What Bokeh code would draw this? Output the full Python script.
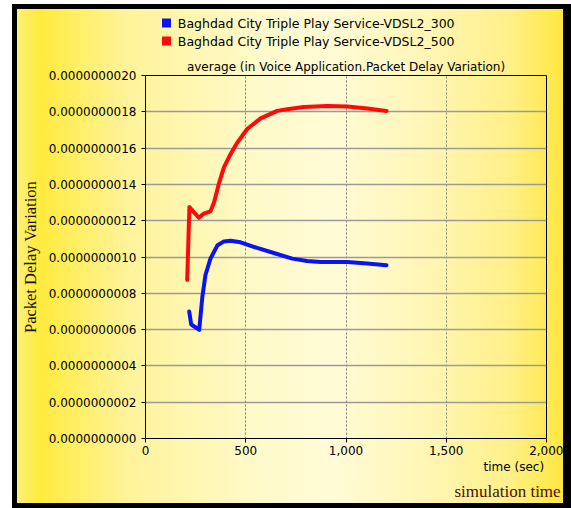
from bokeh.plotting import figure
from bokeh.models import (Range1d, FixedTicker, CustomJSTickFormatter, NumeralTickFormatter, LinearAxis)
from bokeh.embed import file_html
from bokeh.resources import INLINE

# ---------------- data ----------------
series_names = ["Baghdad City Triple Play Service-VDSL2_300",
                "Baghdad City Triple Play Service-VDSL2_500"]
series_colors = ["#0a14f0", "#ff0a0a"]

t_300 = [218, 228, 268, 283, 299, 324, 358, 391, 424, 474, 557, 640, 732, 806, 873, 1006, 1106, 1202]
v_300 = [0.700e-9, 0.628e-9, 0.599e-9, 0.775e-9, 0.901e-9, 0.991e-9, 1.063e-9, 1.086e-9, 1.090e-9,
         1.081e-9, 1.050e-9, 1.022e-9, 0.991e-9, 0.978e-9, 0.973e-9, 0.973e-9, 0.964e-9, 0.955e-9]

t_500 = [208, 219, 266, 291, 324, 341, 366, 391, 424, 457, 507, 574, 657, 707, 790, 906, 1006, 1106, 1202]
v_500 = [0.874e-9, 1.275e-9, 1.216e-9, 1.239e-9, 1.252e-9, 1.297e-9, 1.404e-9, 1.494e-9, 1.566e-9,
         1.629e-9, 1.705e-9, 1.764e-9, 1.805e-9, 1.814e-9, 1.826e-9, 1.832e-9, 1.829e-9, 1.818e-9, 1.805e-9]

x_ticks = [0, 500, 1000, 1500, 2000]
y_ticks = [0.0, 0.2e-9, 0.4e-9, 0.6e-9, 0.8e-9, 1.0e-9, 1.2e-9, 1.4e-9, 1.6e-9, 1.8e-9, 2.0e-9]

title_text = "average (in Voice Application.Packet Delay Variation)"
y_label = "Packet Delay Variation"
x_label = "time (sec)"
footer_text = "simulation time"

SANS = "DejaVu Sans"
SERIF = "Liberation Serif"
NBSP = "\u00a0"
LEGEND_X = 107  # x position (data units) of the legend swatches

gradient = ("linear-gradient(to right, #fdf07a 0%, #ffeb3c 4%, #fff39a 20%, #fffacb 45%, "
            "#fffbd6 58%, #fff6b5 75%, #fff08a 90%, #ffe73f 100%)")

p = figure(width=546, height=494, output_backend="svg", toolbar_location=None,
           x_range=Range1d(0, 2000), y_range=Range1d(0, 2e-9),
           min_border_left=128, min_border_right=17, min_border_top=60, min_border_bottom=63,
           background_fill_color=None, border_fill_color=None,
           styles={"background": gradient,
                   "box-shadow": "0 0 0 5px black, 3px 0 0 5px black",
                   "margin-left": "17px", "margin-top": "9px"})

# main axes (grab them before any extra axis is added)
xa = p.below[0]
ya = p.left[0]

p.outline_line_color = "black"
p.outline_line_width = 1

# built-in title kept tiny (the visible title is drawn as an axis label above the frame)
p.title.text = NBSP
p.title.text_font_size = "1px"
p.title.standoff = 0

xa.ticker = FixedTicker(ticks=x_ticks)
xa.formatter = NumeralTickFormatter(format="0,0")
ya.ticker = FixedTicker(ticks=y_ticks)
ya.formatter = CustomJSTickFormatter(code="return tick.toFixed(10);")
for ax in (xa, ya):
    ax.axis_line_color = "black"
    ax.axis_line_width = 1
    ax.major_tick_in = 0
    ax.major_tick_out = 4
    ax.major_tick_line_color = "black"
    ax.minor_tick_line_color = None
    ax.major_label_text_font = SANS
    ax.major_label_text_font_size = "12px"
    ax.major_label_text_color = "black"
xa.major_label_standoff = 3
xa.axis_label = NBSP * 88 + x_label
xa.axis_label_text_font = SANS
xa.axis_label_text_font_size = "12px"
xa.axis_label_text_font_style = "normal"
xa.axis_label_text_color = "black"
xa.axis_label_standoff = 2

ya.major_label_standoff = 5
ya.axis_label = y_label
ya.axis_label_text_font = SERIF
ya.axis_label_text_font_size = "16.5px"
ya.axis_label_text_font_style = "normal"
ya.axis_label_text_color = "#1c1200"
ya.axis_label_standoff = 6


def bare_axis(ax):
    ax.axis_line_color = None
    ax.major_tick_in = 0
    ax.major_tick_out = 0
    ax.minor_tick_line_color = None
    ax.major_label_standoff = 0
    ax.major_label_text_font_size = "0px"
    ax.formatter = CustomJSTickFormatter(code="return '';")


# main title axis (nearest the frame)
t_ax = LinearAxis(ticker=FixedTicker(ticks=[]))
bare_axis(t_ax)
t_ax.axis_label = title_text
t_ax.axis_label_text_font = SANS
t_ax.axis_label_text_font_size = "12px"
t_ax.axis_label_text_font_style = "normal"
t_ax.axis_label_text_color = "black"
t_ax.axis_label_standoff = 2
p.add_layout(t_ax, "above")

# legend rows (swatch = thick tick, text = axis label); row 2 first (nearer the frame)
row_geom = {1: (-11, 20), 0: (-3, 12)}
for i in (1, 0):
    ax = LinearAxis(ticker=FixedTicker(ticks=[LEGEND_X]))
    bare_axis(ax)
    tin, tout = row_geom[i]
    ax.major_tick_in = tin
    ax.major_tick_out = tout
    ax.major_tick_line_color = series_colors[i]
    ax.major_tick_line_width = 9
    ax.major_tick_line_cap = "butt"
    ax.axis_label = series_names[i] + NBSP * 15
    ax.axis_label_text_font = SANS
    ax.axis_label_text_font_size = "12.5px"
    ax.axis_label_text_font_style = "normal"
    ax.axis_label_text_color = "black"
    ax.axis_label_standoff = -12
    p.add_layout(ax, "above")

# footer text as the label of an extra bare axis below
f_ax = LinearAxis(ticker=FixedTicker(ticks=[]))
bare_axis(f_ax)
f_ax.axis_label = NBSP * 76 + footer_text
f_ax.axis_label_text_font = SERIF
f_ax.axis_label_text_font_size = "17px"
f_ax.axis_label_text_font_style = "normal"
f_ax.axis_label_text_color = "#4a1200"
f_ax.axis_label_standoff = 5
p.add_layout(f_ax, "below")

# grids
p.ygrid.grid_line_color = "#9a9a9a"
p.ygrid.grid_line_width = 1.5
p.xgrid.grid_line_color = "#808080"
p.xgrid.grid_line_width = 1
p.xgrid.grid_line_dash = "2 2"

# data lines
p.line(t_300, v_300, line_color=series_colors[0], line_width=4, line_cap="round", line_join="round")
p.line(t_500, v_500, line_color=series_colors[1], line_width=4, line_cap="round", line_join="round")

open("out.html", "w").write(file_html(p, INLINE))
